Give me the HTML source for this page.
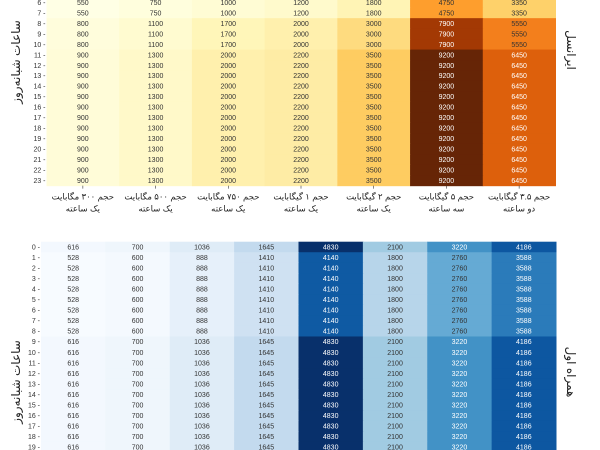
<!DOCTYPE html>
<html><head><meta charset="utf-8">
<style>
html,body{margin:0;padding:0;background:#fff;width:600px;height:450px;overflow:hidden}
svg{display:block;overflow:hidden}
text{font-family:"Liberation Sans","DejaVu Sans","Noto Sans CJK SC",sans-serif}
</style></head>
<body>
<svg id="chart" width="600" height="450" viewBox="0 0 600 450" xmlns="http://www.w3.org/2000/svg">
<defs><clipPath id="frame"><rect x="0" y="0" width="600" height="450"/></clipPath></defs>
<g clip-path="url(#frame)">
<g id="topg"></g>
<g id="botg"></g>
</g>
<text transform="translate(20,62) rotate(-90)" text-anchor="middle" font-size="12" fill="#222">ساعات شبانه‌روز</text>
<text transform="translate(567,50) rotate(90)" text-anchor="middle" font-size="12" fill="#222">ایرانسل</text>
<text transform="translate(20,382) rotate(-90)" text-anchor="middle" font-size="12" fill="#222">ساعات شبانه‌روز</text>
<text transform="translate(567,372) rotate(90)" text-anchor="middle" font-size="12" fill="#222">همراه اول</text>
</svg>
<script>
const topCols1 = ["حجم ۳۰۰ مگابایت","حجم ۵۰۰ مگابایت","حجم ۷۵۰ مگابایت","حجم ۱ گیگابایت","حجم ۲ گیگابایت","حجم ۵ گیگابایت","حجم ۳.۵ گیگابایت"];
const topCols2 = ["یک ساعته","یک ساعته","یک ساعته","یک ساعته","یک ساعته","سه ساعته","دو ساعته"];
const topLow = [550,750,1000,1200,1800,4750,3350];
const topMid = [800,1100,1700,2000,3000,7900,5550];
const topHigh = [900,1300,2000,2200,3500,9200,6450];
const topBand = [0,0,0,0,0,0,0,0,1,1,1,2,2,2,2,2,2,2,2,2,2,2,2,2];
const botHigh = [616,700,1036,1645,4830,2100,3220,4186];
const botLow = [528,600,888,1410,4140,1800,2760,3588];
const botBand = [1,0,0,0,0,0,0,0,0,1,1,1,1,1,1,1,1,1,1,1,1,1,1,1];
const hours = Array.from({length:24},(_,i)=>i);

const YlOrBr=["#ffffe5","#fff7bc","#fee391","#fec44f","#fe9929","#ec7014","#cc4c02","#993404","#662506"];
const Blues=["#f7fbff","#deebf7","#c6dbef","#9ecae1","#6baed6","#4292c6","#2171b5","#08519c","#08306b"];
function hex(c){return [1,3,5].map(i=>parseInt(c.substr(i,2),16));}
function cmap(stops,t){t=Math.max(0,Math.min(1,t));const n=stops.length-1;const i=Math.min(n-1,Math.floor(t*n));const f=t*n-i;const a=hex(stops[i]),b=hex(stops[i+1]);return a.map((v,k)=>Math.round(v+(b[k]-v)*f));}
const NS="http://www.w3.org/2000/svg";
function mk(tag,attrs,parent){const e=document.createElementNS(NS,tag);for(const k in attrs)e.setAttribute(k,attrs[k]);parent.appendChild(e);return e;}

function drawHeat(g,rowsFn,ncols,x0,x1,y0,rowH,stops,vmin,vmax,name){
  const cw=(x1-x0)/ncols;
  const xs=c=>x0+c*cw, ys=r=>y0+r*rowH;
  hours.forEach(h=>{
    const top0=ys(h);
    if(top0+rowH<=0 || top0>=450) return;
    const y1=Math.max(0,top0), y2=Math.min(450,top0+rowH+0.5);
    const vals=rowsFn(h);
    vals.forEach((v,c)=>{
      const col=cmap(stops,(v-vmin)/(vmax-vmin));
      const r=mk('rect',{x:xs(c),y:y1,width:cw+0.5,height:y2-y1,fill:`rgb(${col})`},g);
      
      
      const lum=(0.299*col[0]+0.587*col[1]+0.114*col[2])/255;
      const t=mk('text',{x:xs(c)+cw/2,y:top0+rowH/2+2.5,'text-anchor':'middle','font-size':7,fill:lum>0.55?'#333':'#fff'},g);
      t.textContent=v;
      
      
    });
    const l=mk('text',{x:x0-1,y:top0+rowH/2+2.5,'text-anchor':'end','font-size':7,fill:'#333'},g);
    l.textContent=h+' -';
    
    
  });
  return {xs,cw};
}
const topG=document.getElementById('topg');
const T=drawHeat(topG,h=>[topLow,topMid,topHigh][topBand[h]],7,46.5,555.5,-65.6,10.47,YlOrBr,550,9200,'irancell');
const by=-65.6+24*10.47;
topCols1.forEach((s,c)=>{
  const cx=T.xs(c)+T.cw/2;
  mk('line',{x1:cx,x2:cx,y1:by,y2:by+3,stroke:'#333','stroke-width':0.6},topG);
  const a=mk('text',{x:cx,y:by+14,'text-anchor':'middle','font-size':8.5,fill:'#222'},topG);
  a.textContent=s;
  
  
  const b=mk('text',{x:cx,y:by+26,'text-anchor':'middle','font-size':8.5,fill:'#222'},topG);
  b.textContent=topCols2[c];
  
  
});
const botG=document.getElementById('botg');
drawHeat(botG,h=>[botLow,botHigh][botBand[h]],8,41,556,241.7,10.53,Blues,528,4830,'hamrah');
</script>
</body></html>
